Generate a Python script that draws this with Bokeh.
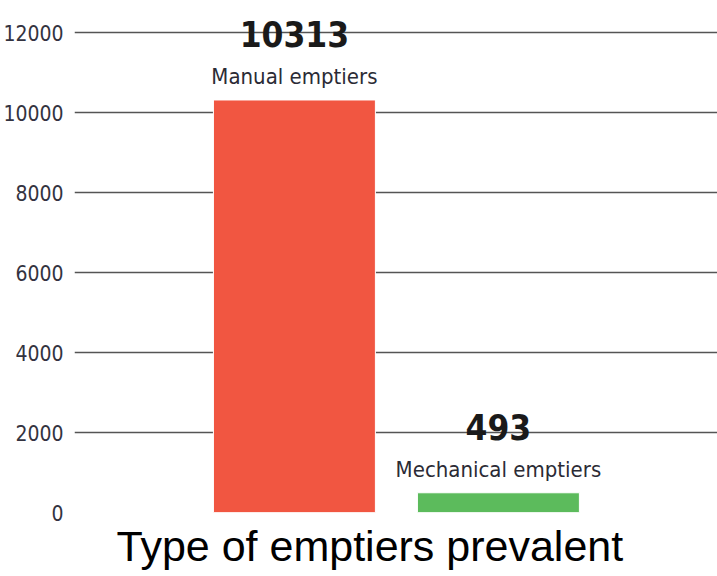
from bokeh.plotting import figure
from bokeh.models import ColumnDataSource, Range1d, Title, FixedTicker
from bokeh.core.properties import value
from bokeh.embed import file_html
from bokeh.resources import INLINE

# Data
categories = ["Manual emptiers", "Mechanical emptiers"]
counts = [10313, 493]
bar_colors = ["#F15641", "#5CBB5C"]
y_ticks = [0, 2000, 4000, 6000, 8000, 10000, 12000]

NARROW = "'Liberation Sans Narrow', 'DejaVu Sans Condensed', sans-serif"

positions = [i + 1 for i in range(len(categories))]
source = ColumnDataSource(dict(
    x=positions,
    top=counts,
    color=bar_colors,
    cat=categories,
    val=[str(v) for v in counts],
))

p = figure(
    width=717, height=576,
    x_range=Range1d(-0.078, 3.074),
    y_range=Range1d(0, 12500),
    output_backend="svg", toolbar_location=None,
    min_border_left=74, min_border_right=0,
    min_border_top=12, min_border_bottom=64,
)
p.outline_line_color = None
p.background_fill_color = "white"
p.border_fill_color = "white"

p.vbar(x="x", top="top", width=0.794, bottom=0, color="color",
       line_color="white", line_width=1, source=source)

# Category name just above each bar
p.text(x="x", y="top", text="cat", source=source, y_offset=-23,
       text_align="center", text_baseline="alphabetic",
       text_font=value(NARROW), text_font_size="22px", text_color="#2b2b35")
# Value above the category name
p.text(x="x", y="top", text="val", source=source, y_offset=-66,
       text_align="center", text_baseline="alphabetic",
       text_font=value(NARROW), text_font_style="bold",
       text_font_size="35px", text_color="#1a1a1a")

p.xaxis.visible = False
p.xgrid.grid_line_color = None

p.yaxis.ticker = FixedTicker(ticks=y_ticks)
p.yaxis.axis_line_color = None
p.yaxis.major_tick_line_color = None
p.yaxis.minor_tick_line_color = None
p.yaxis.major_tick_out = 0
p.yaxis.major_label_standoff = 11
p.yaxis.major_label_text_font = NARROW
p.yaxis.major_label_text_font_size = "21px"
p.yaxis.major_label_text_color = "#333340"

p.ygrid.ticker = FixedTicker(ticks=y_ticks)
p.ygrid.grid_line_color = "#555555"
p.ygrid.grid_line_width = 1.5

p.add_layout(Title(text="Type of emptiers prevalent", align="left", offset=42,
                   standoff=14,
                   text_font="Liberation Sans", text_font_style="normal",
                   text_font_size="43px", text_color="black"), "below")

open("out.html", "w").write(file_html(p, INLINE))
